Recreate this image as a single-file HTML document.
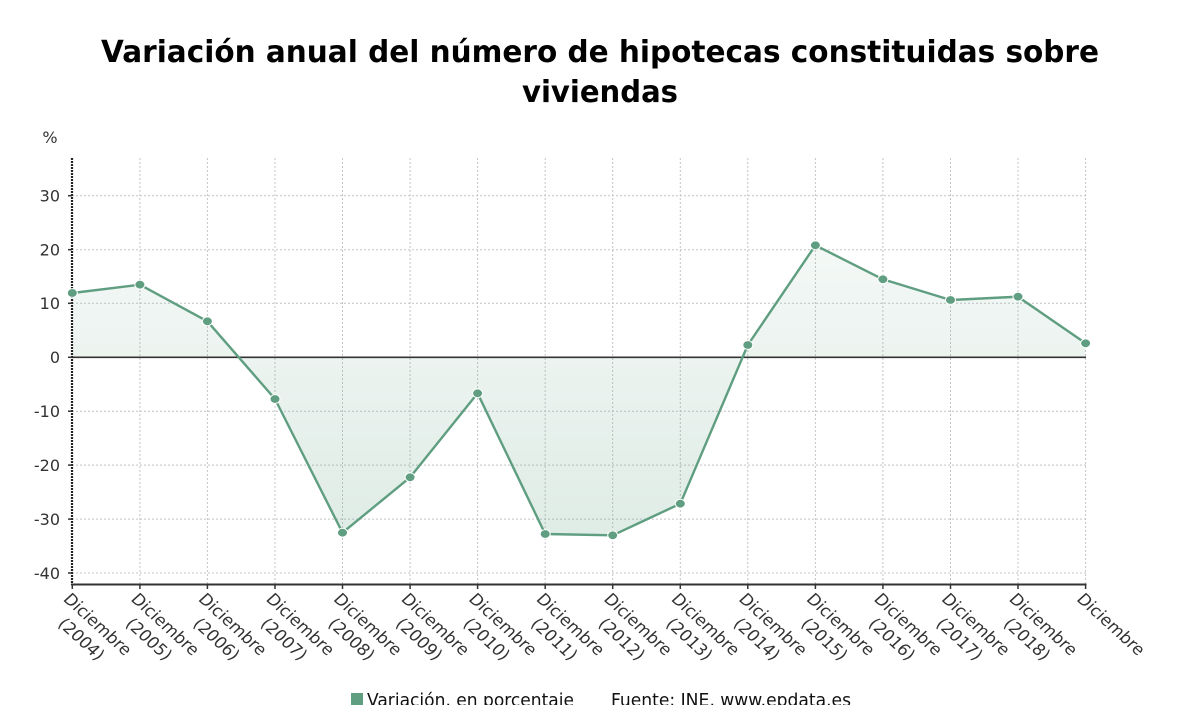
<!DOCTYPE html>
<html><head><meta charset="utf-8"><style>
html,body{margin:0;padding:0;background:#fff;width:1200px;height:705px;overflow:hidden}
svg{display:block}
</style></head><body>
<svg width="1200" height="705" viewBox="0 0 1200 705" xmlns="http://www.w3.org/2000/svg">
<defs>
<linearGradient id="ag" gradientUnits="userSpaceOnUse" x1="0" y1="158" x2="0" y2="584">
<stop offset="0" stop-color="#5f9e80" stop-opacity="0.03"/>
<stop offset="1" stop-color="#5f9e80" stop-opacity="0.22"/>
</linearGradient>
</defs>
<rect width="1200" height="705" fill="#fff"/>
<!-- Title -->
<g font-family="'DejaVu Sans', 'Liberation Sans', sans-serif" font-weight="bold" font-size="30" fill="#000">
<text x="101" y="62" textLength="998" lengthAdjust="spacingAndGlyphs">Variación anual del número de hipotecas constituidas sobre</text>
<text x="522" y="102" textLength="156" lengthAdjust="spacingAndGlyphs">viviendas</text>
</g>
<!-- grid -->
<g stroke="#c4c4c4" stroke-width="1" stroke-dasharray="2,2" fill="none">
<line x1="72" y1="195.7" x2="1086" y2="195.7"/>
<line x1="72" y1="249.7" x2="1086" y2="249.7"/>
<line x1="72" y1="303.3" x2="1086" y2="303.3"/>
<line x1="72" y1="411.2" x2="1086" y2="411.2"/>
<line x1="72" y1="465.1" x2="1086" y2="465.1"/>
<line x1="72" y1="519.1" x2="1086" y2="519.1"/>
<line x1="72" y1="573.0" x2="1086" y2="573.0"/>
<line x1="139.9" y1="158" x2="139.9" y2="584"/>
<line x1="207.4" y1="158" x2="207.4" y2="584"/>
<line x1="275.0" y1="158" x2="275.0" y2="584"/>
<line x1="342.5" y1="158" x2="342.5" y2="584"/>
<line x1="410.1" y1="158" x2="410.1" y2="584"/>
<line x1="477.6" y1="158" x2="477.6" y2="584"/>
<line x1="545.2" y1="158" x2="545.2" y2="584"/>
<line x1="612.7" y1="158" x2="612.7" y2="584"/>
<line x1="680.3" y1="158" x2="680.3" y2="584"/>
<line x1="747.8" y1="158" x2="747.8" y2="584"/>
<line x1="815.4" y1="158" x2="815.4" y2="584"/>
<line x1="882.9" y1="158" x2="882.9" y2="584"/>
<line x1="950.5" y1="158" x2="950.5" y2="584"/>
<line x1="1018.0" y1="158" x2="1018.0" y2="584"/>
<line x1="1085.6" y1="158" x2="1085.6" y2="584"/>
</g>
<!-- area -->
<polygon fill="url(#ag)" points="72.3,357.3 72.3,293 139.9,284.7 207.4,321.3 275,399 342.5,532.7 410.1,477.3 477.6,393.3 545.2,534 612.7,535.3 680.3,503.7 747.8,345 815.4,245.3 882.9,279.3 950.5,300 1018,296.7 1085.6,343.3 1085.6,357.3"/>
<!-- zero line -->
<line x1="72" y1="357.3" x2="1086" y2="357.3" stroke="#333" stroke-width="1.6"/>
<!-- axes -->
<line x1="72" y1="158" x2="72" y2="585" stroke="#222" stroke-width="2.2" stroke-dasharray="2,1"/>
<line x1="71" y1="584.5" x2="1086.5" y2="584.5" stroke="#333" stroke-width="2"/>
<g stroke="#333" stroke-width="1.5">
<line x1="68" y1="195.7" x2="72" y2="195.7"/>
<line x1="68" y1="249.7" x2="72" y2="249.7"/>
<line x1="68" y1="303.3" x2="72" y2="303.3"/>
<line x1="68" y1="357.3" x2="72" y2="357.3"/>
<line x1="68" y1="411.2" x2="72" y2="411.2"/>
<line x1="68" y1="465.1" x2="72" y2="465.1"/>
<line x1="68" y1="519.1" x2="72" y2="519.1"/>
<line x1="68" y1="573.0" x2="72" y2="573.0"/>
<line x1="72.3" y1="584" x2="72.3" y2="589"/>
<line x1="139.9" y1="584" x2="139.9" y2="589"/>
<line x1="207.4" y1="584" x2="207.4" y2="589"/>
<line x1="275.0" y1="584" x2="275.0" y2="589"/>
<line x1="342.5" y1="584" x2="342.5" y2="589"/>
<line x1="410.1" y1="584" x2="410.1" y2="589"/>
<line x1="477.6" y1="584" x2="477.6" y2="589"/>
<line x1="545.2" y1="584" x2="545.2" y2="589"/>
<line x1="612.7" y1="584" x2="612.7" y2="589"/>
<line x1="680.3" y1="584" x2="680.3" y2="589"/>
<line x1="747.8" y1="584" x2="747.8" y2="589"/>
<line x1="815.4" y1="584" x2="815.4" y2="589"/>
<line x1="882.9" y1="584" x2="882.9" y2="589"/>
<line x1="950.5" y1="584" x2="950.5" y2="589"/>
<line x1="1018.0" y1="584" x2="1018.0" y2="589"/>
<line x1="1085.6" y1="584" x2="1085.6" y2="589"/>
</g>
<!-- series line -->
<polyline fill="none" stroke="#5f9e80" stroke-width="2.4" stroke-linejoin="round" points="72.3,293 139.9,284.7 207.4,321.3 275,399 342.5,532.7 410.1,477.3 477.6,393.3 545.2,534 612.7,535.3 680.3,503.7 747.8,345 815.4,245.3 882.9,279.3 950.5,300 1018,296.7 1085.6,343.3"/>
<g fill="#5f9e80" stroke="#fff" stroke-width="1">
<ellipse cx="72.3" cy="293" rx="5" ry="4.4"/>
<ellipse cx="139.9" cy="284.7" rx="5" ry="4.4"/>
<ellipse cx="207.4" cy="321.3" rx="5" ry="4.4"/>
<ellipse cx="275" cy="399" rx="5" ry="4.4"/>
<ellipse cx="342.5" cy="532.7" rx="5" ry="4.4"/>
<ellipse cx="410.1" cy="477.3" rx="5" ry="4.4"/>
<ellipse cx="477.6" cy="393.3" rx="5" ry="4.4"/>
<ellipse cx="545.2" cy="534" rx="5" ry="4.4"/>
<ellipse cx="612.7" cy="535.3" rx="5" ry="4.4"/>
<ellipse cx="680.3" cy="503.7" rx="5" ry="4.4"/>
<ellipse cx="747.8" cy="345" rx="5" ry="4.4"/>
<ellipse cx="815.4" cy="245.3" rx="5" ry="4.4"/>
<ellipse cx="882.9" cy="279.3" rx="5" ry="4.4"/>
<ellipse cx="950.5" cy="300" rx="5" ry="4.4"/>
<ellipse cx="1018" cy="296.7" rx="5" ry="4.4"/>
<ellipse cx="1085.6" cy="343.3" rx="5" ry="4.4"/>
</g>
<!-- y labels -->
<g font-family="'DejaVu Sans', 'Liberation Sans', sans-serif" font-size="16" fill="#333" text-anchor="end">
<text x="50" y="143" text-anchor="middle">%</text>
<text x="60" y="201.5">30</text>
<text x="60" y="255.5">20</text>
<text x="60" y="309.1">10</text>
<text x="60" y="363.1">0</text>
<text x="60" y="417">-10</text>
<text x="60" y="470.9">-20</text>
<text x="60" y="524.9">-30</text>
<text x="60" y="578.8">-40</text>
</g>
<!-- x labels -->
<g font-family="'DejaVu Sans', 'Liberation Sans', sans-serif" font-size="16" fill="#333" text-anchor="middle">
<g transform="translate(80.3,585) scale(1.1,1) rotate(45)"><text x="39" y="22" textLength="80" lengthAdjust="spacingAndGlyphs">Diciembre</text><text x="39" y="43" textLength="52" lengthAdjust="spacingAndGlyphs">(2004)</text></g>
<g transform="translate(147.9,585) scale(1.1,1) rotate(45)"><text x="39" y="22" textLength="80" lengthAdjust="spacingAndGlyphs">Diciembre</text><text x="39" y="43" textLength="52" lengthAdjust="spacingAndGlyphs">(2005)</text></g>
<g transform="translate(215.4,585) scale(1.1,1) rotate(45)"><text x="39" y="22" textLength="80" lengthAdjust="spacingAndGlyphs">Diciembre</text><text x="39" y="43" textLength="52" lengthAdjust="spacingAndGlyphs">(2006)</text></g>
<g transform="translate(283,585) scale(1.1,1) rotate(45)"><text x="39" y="22" textLength="80" lengthAdjust="spacingAndGlyphs">Diciembre</text><text x="39" y="43" textLength="52" lengthAdjust="spacingAndGlyphs">(2007)</text></g>
<g transform="translate(350.5,585) scale(1.1,1) rotate(45)"><text x="39" y="22" textLength="80" lengthAdjust="spacingAndGlyphs">Diciembre</text><text x="39" y="43" textLength="52" lengthAdjust="spacingAndGlyphs">(2008)</text></g>
<g transform="translate(418.1,585) scale(1.1,1) rotate(45)"><text x="39" y="22" textLength="80" lengthAdjust="spacingAndGlyphs">Diciembre</text><text x="39" y="43" textLength="52" lengthAdjust="spacingAndGlyphs">(2009)</text></g>
<g transform="translate(485.6,585) scale(1.1,1) rotate(45)"><text x="39" y="22" textLength="80" lengthAdjust="spacingAndGlyphs">Diciembre</text><text x="39" y="43" textLength="52" lengthAdjust="spacingAndGlyphs">(2010)</text></g>
<g transform="translate(553.2,585) scale(1.1,1) rotate(45)"><text x="39" y="22" textLength="80" lengthAdjust="spacingAndGlyphs">Diciembre</text><text x="39" y="43" textLength="52" lengthAdjust="spacingAndGlyphs">(2011)</text></g>
<g transform="translate(620.7,585) scale(1.1,1) rotate(45)"><text x="39" y="22" textLength="80" lengthAdjust="spacingAndGlyphs">Diciembre</text><text x="39" y="43" textLength="52" lengthAdjust="spacingAndGlyphs">(2012)</text></g>
<g transform="translate(688.3,585) scale(1.1,1) rotate(45)"><text x="39" y="22" textLength="80" lengthAdjust="spacingAndGlyphs">Diciembre</text><text x="39" y="43" textLength="52" lengthAdjust="spacingAndGlyphs">(2013)</text></g>
<g transform="translate(755.8,585) scale(1.1,1) rotate(45)"><text x="39" y="22" textLength="80" lengthAdjust="spacingAndGlyphs">Diciembre</text><text x="39" y="43" textLength="52" lengthAdjust="spacingAndGlyphs">(2014)</text></g>
<g transform="translate(823.4,585) scale(1.1,1) rotate(45)"><text x="39" y="22" textLength="80" lengthAdjust="spacingAndGlyphs">Diciembre</text><text x="39" y="43" textLength="52" lengthAdjust="spacingAndGlyphs">(2015)</text></g>
<g transform="translate(890.9,585) scale(1.1,1) rotate(45)"><text x="39" y="22" textLength="80" lengthAdjust="spacingAndGlyphs">Diciembre</text><text x="39" y="43" textLength="52" lengthAdjust="spacingAndGlyphs">(2016)</text></g>
<g transform="translate(958.5,585) scale(1.1,1) rotate(45)"><text x="39" y="22" textLength="80" lengthAdjust="spacingAndGlyphs">Diciembre</text><text x="39" y="43" textLength="52" lengthAdjust="spacingAndGlyphs">(2017)</text></g>
<g transform="translate(1026,585) scale(1.1,1) rotate(45)"><text x="39" y="22" textLength="80" lengthAdjust="spacingAndGlyphs">Diciembre</text><text x="39" y="43" textLength="52" lengthAdjust="spacingAndGlyphs">(2018)</text></g>
<g transform="translate(1093.6,585) scale(1.1,1) rotate(45)"><text x="39" y="22" textLength="80" lengthAdjust="spacingAndGlyphs">Diciembre</text></g>
</g>
<!-- legend -->
<rect x="351" y="693" width="12" height="12" fill="#5f9e80"/>
<g font-family="'DejaVu Sans', 'Liberation Sans', sans-serif" font-size="18" fill="#111">
<text x="367" y="706" textLength="207" lengthAdjust="spacingAndGlyphs">Variación, en porcentaje</text>
<text x="611" y="706" textLength="240" lengthAdjust="spacingAndGlyphs">Fuente: INE, www.epdata.es</text>
</g>
</svg>
</body></html>
